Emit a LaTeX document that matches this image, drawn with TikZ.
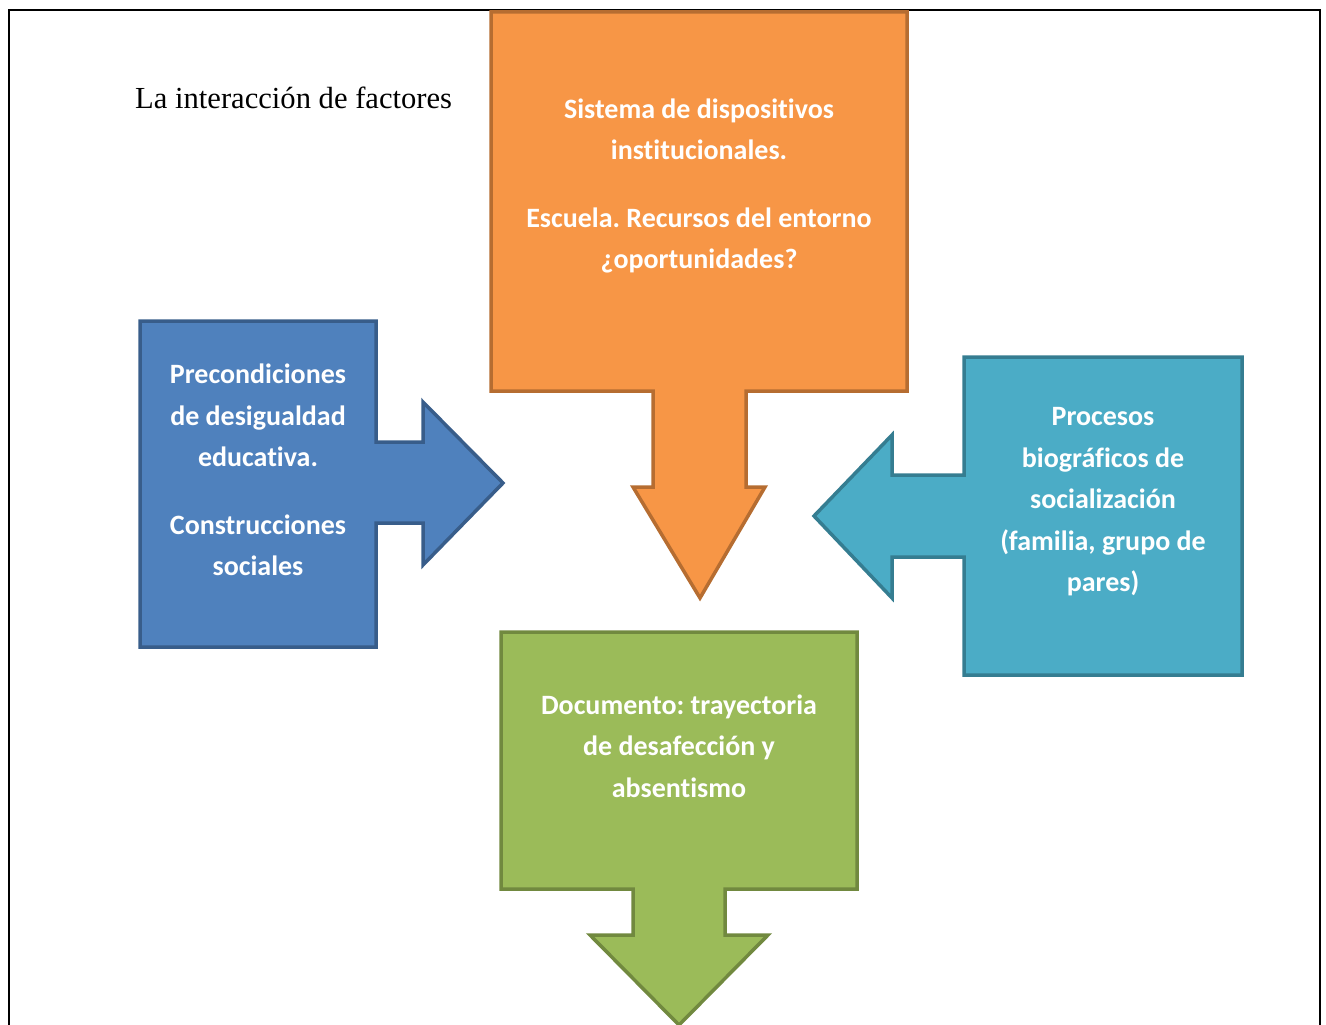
\documentclass[tikz,border=0pt]{standalone}
\usepackage{fontspec}
\setmainfont{Liberation Serif}
\newfontfamily\boxfont[Ligatures=NoCommon]{Carlito}
\frenchspacing
\definecolor{orfill}{HTML}{F79646}
\definecolor{ordraw}{HTML}{B66D31}
\definecolor{blfill}{HTML}{4F81BD}
\definecolor{bldraw}{HTML}{385D8A}
\definecolor{cyfill}{HTML}{4BACC6}
\definecolor{cydraw}{HTML}{357D91}
\definecolor{grfill}{HTML}{9BBB59}
\definecolor{grdraw}{HTML}{71893F}
\begin{document}
\begin{tikzpicture}[x=1pt,y=-1pt,
  callout/.style={line width=3.5pt, line join=miter},
  boxtext/.style={text=white, align=center, inner sep=0pt,
    font=\frenchspacing\boxfont\bfseries\fontsize{28}{41.5}\selectfont},
  frameline/.style={line width=2.5pt, black}]
\useasboundingbox (0,0) rectangle (1326,1025);
% frame
\draw[frameline] (9,1026) -- (9,10) -- (1320,10) -- (1320,1026);
% title
\node[anchor=base west, inner sep=0pt, font=\fontsize{30.6}{36}\selectfont] (title) at (135,108) {La interacción de factores};
% orange down arrow callout
\filldraw[callout, fill=orfill, draw=ordraw]
  (491,12) -- (907,12) -- (907,391) -- (746,391) -- (746,487) -- (765,487)
  -- (700,598) -- (633,487) -- (653,487) -- (653,391) -- (491,391) -- cycle;
\node[boxtext] (orangetxt) at (699,186) {Sistema de dispositivos\\ institucionales.\\[26pt] Escuela. Recursos del entorno\\ ¿oportunidades?};
% blue right arrow callout
\filldraw[callout, fill=blfill, draw=bldraw]
  (140,321) -- (376,321) -- (376,442) -- (423,442) -- (423,402)
  -- (503,483) -- (423,565) -- (423,523) -- (376,523) -- (376,647) -- (140,647) -- cycle;
\node[boxtext] (bluetxt) at (258,470) {Precondiciones\\ de desigualdad\\ educativa.\\[26pt] Construcciones\\ sociales};
% cyan left arrow callout
\filldraw[callout, fill=cyfill, draw=cydraw]
  (1242,357) -- (1242,675) -- (964,675) -- (964,557) -- (892,557) -- (892,598)
  -- (814,516) -- (892,435) -- (892,475) -- (964,475) -- (964,357) -- cycle;
\node[boxtext] (cyantxt) at (1103,502) {Procesos\\ biográficos de\\ socialización\\ (familia, grupo de\\ pares)};
% green down arrow callout
\filldraw[callout, fill=grfill, draw=grdraw]
  (501,632) -- (857,632) -- (857,889) -- (725,889) -- (725,935) -- (768,935)
  -- (679,1025) -- (590,935) -- (633,935) -- (633,889) -- (501,889) -- cycle;
\node[boxtext] (greentxt) at (679,746) {Documento: trayectoria\\ de desafección y\\ absentismo};
\end{tikzpicture}
\end{document}
